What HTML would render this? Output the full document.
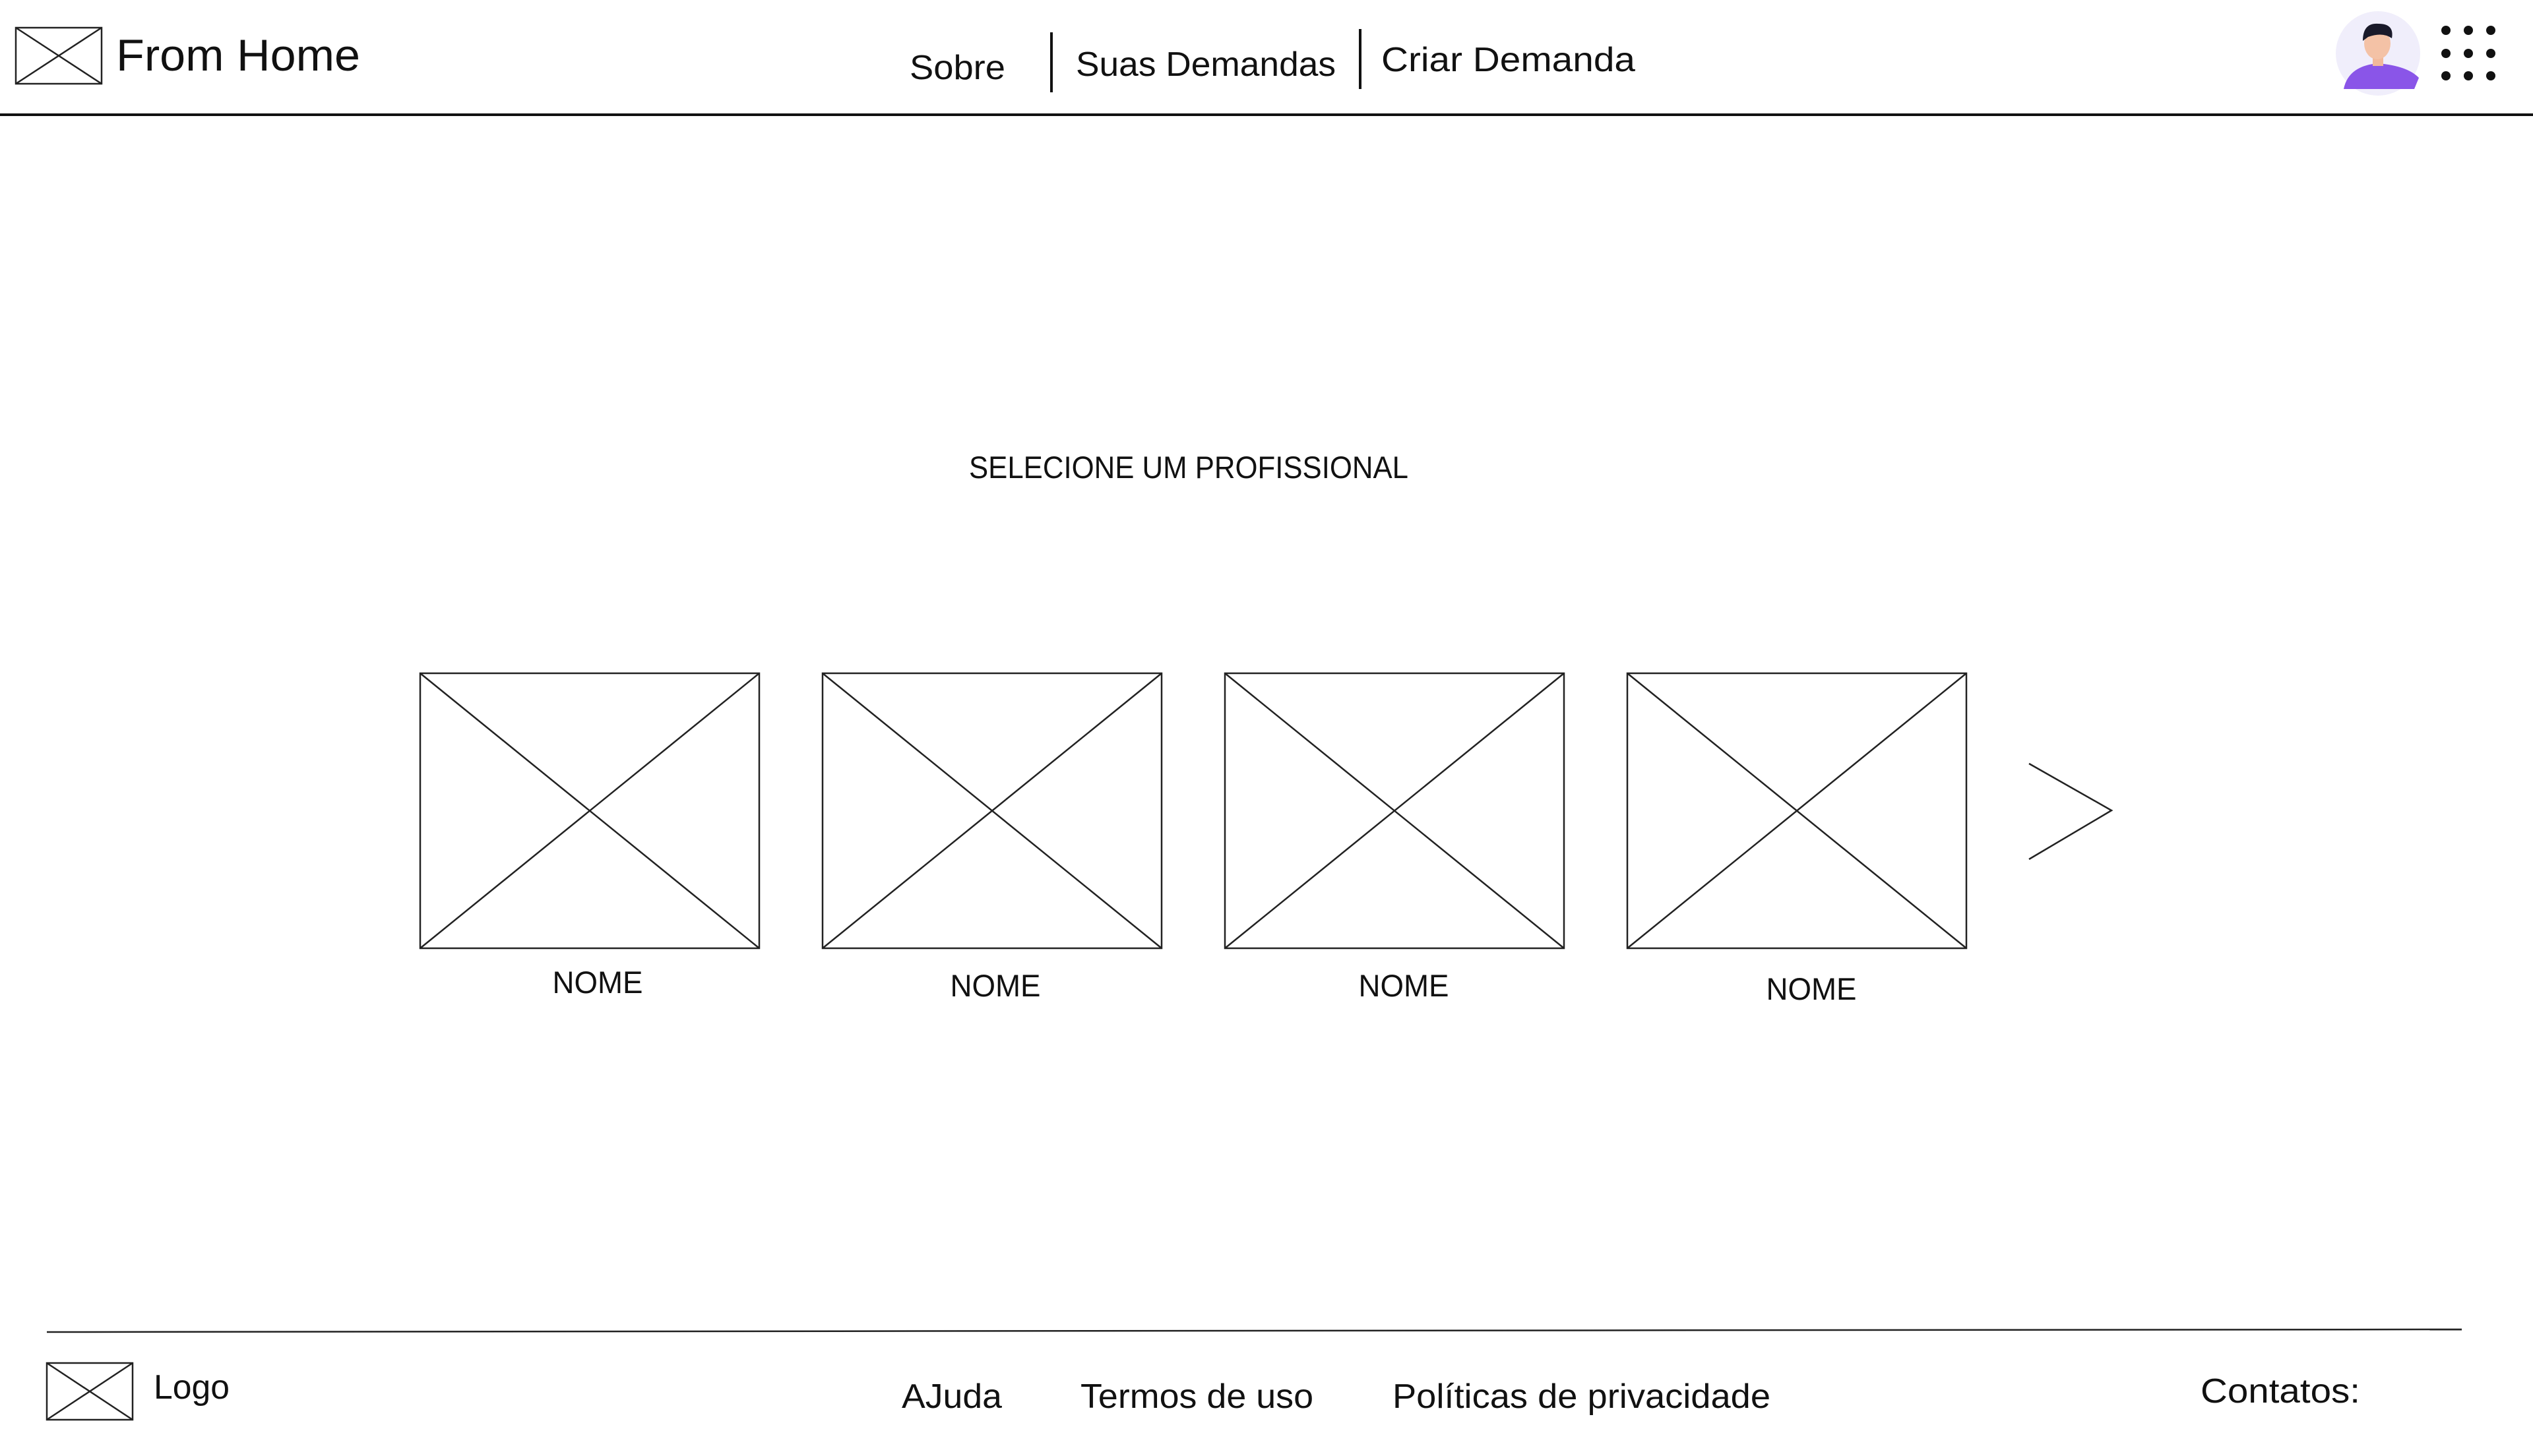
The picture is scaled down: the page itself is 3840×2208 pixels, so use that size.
<!DOCTYPE html>
<html><head><meta charset="utf-8"><style>
html,body{margin:0;padding:0;background:#fff;width:3840px;height:2208px;overflow:hidden}
text{font-family:"Liberation Sans",sans-serif;fill:#111}
</style></head><body>
<svg width="3840" height="2208" viewBox="0 0 3840 2208" xmlns="http://www.w3.org/2000/svg">
<g stroke="#222" stroke-width="2.5" fill="none">
<rect x="24" y="42" width="130" height="85"/>
<line x1="24" y1="42" x2="154" y2="127"/><line x1="154" y1="42" x2="24" y2="127"/>
</g>
<text x="176" y="107" font-size="68" textLength="370" lengthAdjust="spacingAndGlyphs">From Home</text>
<line x1="0" y1="174" x2="3840" y2="174" stroke="#111" stroke-width="4"/>
<text x="1379" y="120" font-size="52" textLength="145" lengthAdjust="spacingAndGlyphs">Sobre</text>
<line x1="1594" y1="49" x2="1594" y2="140" stroke="#111" stroke-width="4"/>
<text x="1631" y="115" font-size="52" textLength="394" lengthAdjust="spacingAndGlyphs">Suas Demandas</text>
<line x1="2062" y1="44" x2="2062" y2="135" stroke="#111" stroke-width="4"/>
<text x="2094" y="108" font-size="52" textLength="385" lengthAdjust="spacingAndGlyphs">Criar Demanda</text>
<!-- avatar -->
<circle cx="3605" cy="81" r="64" fill="#f0eefb"/>
<path d="M3553 135 Q3560 100 3605 96 Q3650 100 3667 118 L3660 135 Z" fill="#8a55e8"/>
<rect x="3597" y="82" width="16" height="18" fill="#f2b89a"/>
<ellipse cx="3604" cy="66" rx="20" ry="24" fill="#f4c2a6"/>
<path d="M3582 62 Q3582 34 3606 36 Q3630 36 3626 58 Q3612 48 3590 56 Z" fill="#1a1a2a"/>
<g fill="#111">
<circle cx="3708" cy="46" r="7"/><circle cx="3742" cy="46" r="7"/><circle cx="3776" cy="46" r="7"/>
<circle cx="3708" cy="81" r="7"/><circle cx="3742" cy="81" r="7"/><circle cx="3776" cy="81" r="7"/>
<circle cx="3708" cy="115" r="7"/><circle cx="3742" cy="115" r="7"/><circle cx="3776" cy="115" r="7"/>
</g>
<text x="1469" y="725" font-size="47" textLength="666" lengthAdjust="spacingAndGlyphs">SELECIONE UM PROFISSIONAL</text>
<g stroke="#222" stroke-width="2.5" fill="none">
<rect x="637" y="1021" width="514" height="417"/><line x1="637" y1="1021" x2="1151" y2="1438"/><line x1="1151" y1="1021" x2="637" y2="1438"/>
<rect x="1247" y="1021" width="514" height="417"/><line x1="1247" y1="1021" x2="1761" y2="1438"/><line x1="1761" y1="1021" x2="1247" y2="1438"/>
<rect x="1857" y="1021" width="514" height="417"/><line x1="1857" y1="1021" x2="2371" y2="1438"/><line x1="2371" y1="1021" x2="1857" y2="1438"/>
<rect x="2467" y="1021" width="514" height="417"/><line x1="2467" y1="1021" x2="2981" y2="1438"/><line x1="2981" y1="1021" x2="2467" y2="1438"/>
<polyline points="3076,1158 3201,1229 3076,1303"/>
</g>
<g font-size="47" text-anchor="middle">
<text x="906" y="1506" textLength="137" lengthAdjust="spacingAndGlyphs">NOME</text>
<text x="1509" y="1511" textLength="137" lengthAdjust="spacingAndGlyphs">NOME</text>
<text x="2128" y="1511" textLength="137" lengthAdjust="spacingAndGlyphs">NOME</text>
<text x="2746" y="1516" textLength="137" lengthAdjust="spacingAndGlyphs">NOME</text>
</g>
<line x1="71" y1="2020" x2="3732" y2="2016" stroke="#222" stroke-width="2.5"/>
<g stroke="#222" stroke-width="2.5" fill="none">
<rect x="71" y="2067" width="130" height="86"/><line x1="71" y1="2067" x2="201" y2="2153"/><line x1="201" y1="2067" x2="71" y2="2153"/>
</g>
<g font-size="52">
<text x="233" y="2121" textLength="115" lengthAdjust="spacingAndGlyphs">Logo</text>
<text x="1367" y="2135" textLength="152" lengthAdjust="spacingAndGlyphs">AJuda</text>
<text x="1638" y="2135" textLength="353" lengthAdjust="spacingAndGlyphs">Termos de uso</text>
<text x="2111" y="2135" textLength="573" lengthAdjust="spacingAndGlyphs">Políticas de privacidade</text>
<text x="3336" y="2127" textLength="242" lengthAdjust="spacingAndGlyphs">Contatos:</text>
</g>
</svg>
</body></html>
